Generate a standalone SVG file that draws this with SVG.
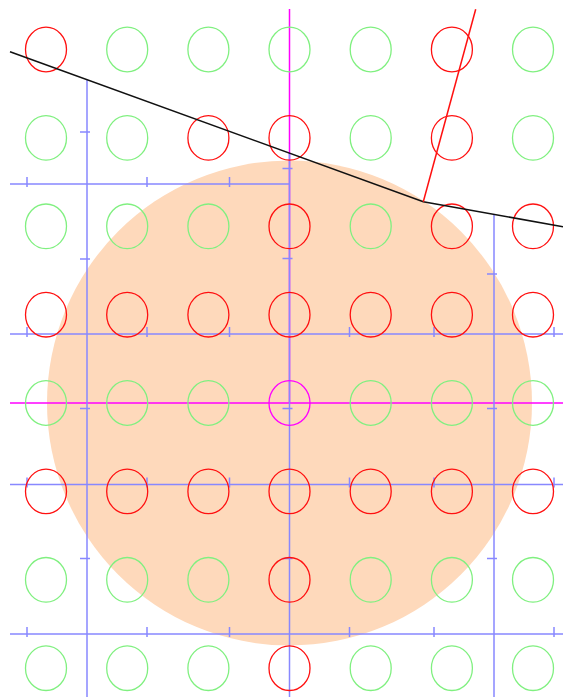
<svg xmlns="http://www.w3.org/2000/svg" width="563" height="697" viewBox="0 0 563 697">
<style>
.g{fill:none;stroke:#80f080;stroke-width:1.3}
.r{fill:none;stroke:#ff1010;stroke-width:1.3}
.m{fill:none;stroke:#ff00ff;stroke-width:1.3}
.bl{fill:none;stroke:#8888ff;stroke-width:1.5}
.mg{fill:none;stroke:#ff00ff;stroke-width:1.5}
</style>
<rect width="563" height="697" fill="#ffffff"/>
<g id="disc"><circle cx="289.5" cy="403" r="242.5" fill="#fed9bb"/></g>
<g id="connectors">
<line class="mg" x1="289.5" y1="9" x2="289.5" y2="403"/>
<line class="mg" x1="10" y1="403" x2="563" y2="403"/>
<path class="bl" d="M87 79.6V697M289.5 153V697M494 214.4V697M10 184H289.5M10 334H563M10 484.5H563M10 634H563"/>
<path class="bl" d="M27 177V187M147 177V187M229.5 177V187
M27 327V337M147 327V337M229.5 327V337M349.5 327V337M434 327V337M554 327V337
M27 477.5V487.5M147 477.5V487.5M229.5 477.5V487.5M349.5 477.5V487.5M434 477.5V487.5M554 477.5V487.5
M27 627V637M147 627V637M229.5 627V637M349.5 627V637M434 627V637M554 627V637
M80 132H90M80 259H90M80 408.5H90M80 558.5H90
M282.5 168.5H292.5M282.5 258.5H292.5M282.5 408.5H292.5M282.5 558.5H292.5
M487 274H497M487 408.5H497M487 558.5H497"/>
</g>
<g id="nodes">
<g id="r0"><ellipse class="r" cx="46" cy="49.5" rx="20.5" ry="22.3"/><ellipse class="g" cx="127.2" cy="49.5" rx="20.5" ry="22.3"/><ellipse class="g" cx="208.4" cy="49.5" rx="20.5" ry="22.3"/><ellipse class="g" cx="289.5" cy="49.5" rx="20.5" ry="22.3"/><ellipse class="g" cx="370.7" cy="49.5" rx="20.5" ry="22.3"/><ellipse class="r" cx="451.9" cy="49.5" rx="20.5" ry="22.3"/><ellipse class="g" cx="533" cy="49.5" rx="20.5" ry="22.3"/></g>
<g id="r1"><ellipse class="g" cx="46" cy="137.9" rx="20.5" ry="22.3"/><ellipse class="g" cx="127.2" cy="137.9" rx="20.5" ry="22.3"/><ellipse class="r" cx="208.4" cy="137.9" rx="20.5" ry="22.3"/><ellipse class="r" cx="289.5" cy="137.9" rx="20.5" ry="22.3"/><ellipse class="g" cx="370.7" cy="137.9" rx="20.5" ry="22.3"/><ellipse class="r" cx="451.9" cy="137.9" rx="20.5" ry="22.3"/><ellipse class="g" cx="533" cy="137.9" rx="20.5" ry="22.3"/></g>
<g id="r2"><ellipse class="g" cx="46" cy="226.3" rx="20.5" ry="22.3"/><ellipse class="g" cx="127.2" cy="226.3" rx="20.5" ry="22.3"/><ellipse class="g" cx="208.4" cy="226.3" rx="20.5" ry="22.3"/><ellipse class="r" cx="289.5" cy="226.3" rx="20.5" ry="22.3"/><ellipse class="g" cx="370.7" cy="226.3" rx="20.5" ry="22.3"/><ellipse class="r" cx="451.9" cy="226.3" rx="20.5" ry="22.3"/><ellipse class="r" cx="533" cy="226.3" rx="20.5" ry="22.3"/></g>
<g id="r3"><ellipse class="r" cx="46" cy="314.7" rx="20.5" ry="22.3"/><ellipse class="r" cx="127.2" cy="314.7" rx="20.5" ry="22.3"/><ellipse class="r" cx="208.4" cy="314.7" rx="20.5" ry="22.3"/><ellipse class="r" cx="289.5" cy="314.7" rx="20.5" ry="22.3"/><ellipse class="r" cx="370.7" cy="314.7" rx="20.5" ry="22.3"/><ellipse class="r" cx="451.9" cy="314.7" rx="20.5" ry="22.3"/><ellipse class="r" cx="533" cy="314.7" rx="20.5" ry="22.3"/></g>
<g id="r4"><ellipse class="g" cx="46" cy="403" rx="20.5" ry="22.3"/><ellipse class="g" cx="127.2" cy="403" rx="20.5" ry="22.3"/><ellipse class="g" cx="208.4" cy="403" rx="20.5" ry="22.3"/><ellipse class="m" cx="289.5" cy="403" rx="20.5" ry="22.3"/><ellipse class="g" cx="370.7" cy="403" rx="20.5" ry="22.3"/><ellipse class="g" cx="451.9" cy="403" rx="20.5" ry="22.3"/><ellipse class="g" cx="533" cy="403" rx="20.5" ry="22.3"/></g>
<g id="r5"><ellipse class="r" cx="46" cy="491.4" rx="20.5" ry="22.3"/><ellipse class="r" cx="127.2" cy="491.4" rx="20.5" ry="22.3"/><ellipse class="r" cx="208.4" cy="491.4" rx="20.5" ry="22.3"/><ellipse class="r" cx="289.5" cy="491.4" rx="20.5" ry="22.3"/><ellipse class="r" cx="370.7" cy="491.4" rx="20.5" ry="22.3"/><ellipse class="r" cx="451.9" cy="491.4" rx="20.5" ry="22.3"/><ellipse class="r" cx="533" cy="491.4" rx="20.5" ry="22.3"/></g>
<g id="r6"><ellipse class="g" cx="46" cy="579.8" rx="20.5" ry="22.3"/><ellipse class="g" cx="127.2" cy="579.8" rx="20.5" ry="22.3"/><ellipse class="g" cx="208.4" cy="579.8" rx="20.5" ry="22.3"/><ellipse class="r" cx="289.5" cy="579.8" rx="20.5" ry="22.3"/><ellipse class="g" cx="370.7" cy="579.8" rx="20.5" ry="22.3"/><ellipse class="g" cx="451.9" cy="579.8" rx="20.5" ry="22.3"/><ellipse class="g" cx="533" cy="579.8" rx="20.5" ry="22.3"/></g>
<g id="r7"><ellipse class="g" cx="46" cy="668.2" rx="20.5" ry="22.3"/><ellipse class="g" cx="127.2" cy="668.2" rx="20.5" ry="22.3"/><ellipse class="g" cx="208.4" cy="668.2" rx="20.5" ry="22.3"/><ellipse class="r" cx="289.5" cy="668.2" rx="20.5" ry="22.3"/><ellipse class="g" cx="370.7" cy="668.2" rx="20.5" ry="22.3"/><ellipse class="g" cx="451.9" cy="668.2" rx="20.5" ry="22.3"/><ellipse class="g" cx="533" cy="668.2" rx="20.5" ry="22.3"/></g>
</g>
<g id="path-lines">
<polyline fill="none" stroke="#111111" stroke-width="1.6" points="10,51.7 423.3,201.7 563,226.7"/>
<line x1="423.3" y1="201.7" x2="475.7" y2="9.3" stroke="#ff1010" stroke-width="1.5"/>
</g>
</svg>
